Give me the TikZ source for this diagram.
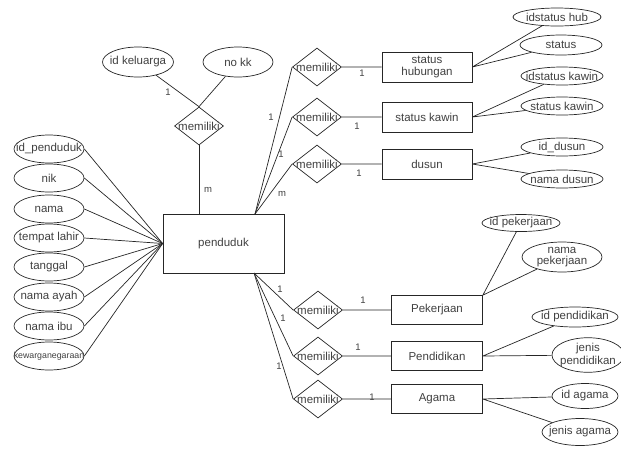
\documentclass[tikz,border=0pt]{standalone}
\usepackage{fontspec}
\setmainfont{Liberation Sans}
\usetikzlibrary{shapes.geometric}
\newcommand{\zw}[1]{\makebox[0pt]{#1}}

\begin{document}
\begin{tikzpicture}[x=1pt, y=-1pt, line width=0.7pt, every node/.style={font=\fontsize{11.5}{11.5}\selectfont, text=black!75},
    ent/.style={draw=black!85, rectangle, minimum width=90pt, minimum height=30pt, inner sep=0, align=center},
    attr/.style={draw=black!85, ellipse, minimum width=70pt, minimum height=28pt, inner sep=0},
    sattr/.style={attr, minimum width=82pt, minimum height=18pt},
    rel/.style={draw=black!85, diamond, minimum width=49pt, minimum height=38pt, inner sep=0},
    card/.style={inner sep=0, font=\fontsize{9.5}{10}\selectfont},
    conn/.style={draw=black!85}]
  \useasboundingbox (0,0) rectangle (621,448);
  \node[ent, minimum width=121pt, minimum height=59pt] (pd) at (223.5,243.5) {penduduk};
  % attributes of penduduk
  \foreach \nm/\y/\t in {a1/149/id\_penduduk, a2/178/nik, a3/209/nama, a4/238/tempat lahir, a5/267/tanggal, a6/297/nama ayah, a7/326/nama ibu, a8/356/{\fontsize{8.8}{8.8}\selectfont kewarganegaraan}}
    {\node[attr] (\nm) at (49,\y) {\zw{\t}}; \draw[conn] (\nm.east) -- (pd.west);}
  % keluarga
  \node[rel] (r0) at (199,126) {\zw{memiliki}};
  \node[attr, minimum width=71pt, minimum height=30pt] (kel) at (138,62) {\zw{id keluarga}};
  \node[attr, minimum height=30pt] (kk) at (238,62) {\zw{no kk}};
  \draw[conn] (kel) -- (r0.north) (kk) -- (r0.north);
  \draw[conn] (r0.south) -- (r0.south |- pd.north);
  % upper relations
  \coordinate (pdt) at (255,214);
  \foreach \r/\e/\y/\t in {r1/e1/67/{status\\hubungan}, r2/e2/117/status kawin, r3/e3/164/dusun} {
    \node[rel] (\r) at (317,\y) {\zw{memiliki}};
    \node[ent] (\e) at (427,\y) {\t};
    \draw[conn] (pdt) -- (\r.west) (\r.east) -- (\e.west);
  }
  \node[sattr, minimum width=88pt] (s1) at (557,17) {\zw{idstatus hub}};
  \node[sattr, minimum height=20pt] (s2) at (561,45) {\zw{status}};
  \node[sattr] (s3) at (562,76) {\zw{idstatus kawin}};
  \node[sattr] (s4) at (562,106) {\zw{status kawin}};
  \node[sattr] (s5) at (562,147) {\zw{id\_dusun}};
  \node[sattr] (s6) at (562,179) {\zw{nama dusun}};
  \draw[conn] (e1.east) -- (s1) (e1.east) -- (s2) (e2.east) -- (s3) (e2.east) -- (s4) (e3.east) -- (s5) (e3.east) -- (s6);
  % lower relations
  \coordinate (pdb) at (254,273);
  \foreach \r/\e/\y/\t in {r4/e4/310/Pekerjaan, r5/e5/356/Pendidikan, r6/e6/399/Agama} {
    \node[rel] (\r) at (318,\y) {\zw{memiliki}};
    \node[ent, minimum width=91pt, minimum height=29pt] (\e) at (437,\y) {\t};
    \draw[conn] (pdb) -- (\r.west) (\r.east) -- (\e.west);
  }
  \node[attr, minimum width=78pt, minimum height=17pt] (p1) at (521,223) {\zw{id pekerjaan}};
  \node[attr, minimum width=80pt, minimum height=30pt] (p2) at (562,257) {\zw{\shortstack{nama\\pekerjaan}}};
  \node[attr, minimum width=86pt, minimum height=20pt] (p3) at (575,317) {\zw{id pendidikan}};
  \node[attr, minimum width=72pt, minimum height=30pt] (p4) at (588,355) {\zw{\shortstack{jenis\\pendidikan}}};
  \node[attr, minimum width=66pt, minimum height=25pt] (p5) at (585,396) {\zw{id agama}};
  \node[attr, minimum width=76pt, minimum height=27pt] (p6) at (580,432) {\zw{jenis agama}};
  \draw[conn] (e4.north east) -- (p1) (e4.north east) -- (p2) (e5.east) -- (p3) (e5.east) -- (p4) (e6.east) -- (p5) (e6.east) -- (p6);
  % cardinalities
  \foreach \nm/\x/\y/\t in {c0/168/92/1, c1/208/190/m, c2/271/117/1, c3/281/154/1, c4/282/194/m, c5/362/73/1, c6/357/126/1, c7/359/173/1,
      c8/280/289/1, c9/283/318/1, c10/279/366/1, c11/363/300/1, c12/358/347/1, c13/372/397/1}
    {\node[card] (\nm) at (\x,\y) {\t};}
\end{tikzpicture}
\end{document}
